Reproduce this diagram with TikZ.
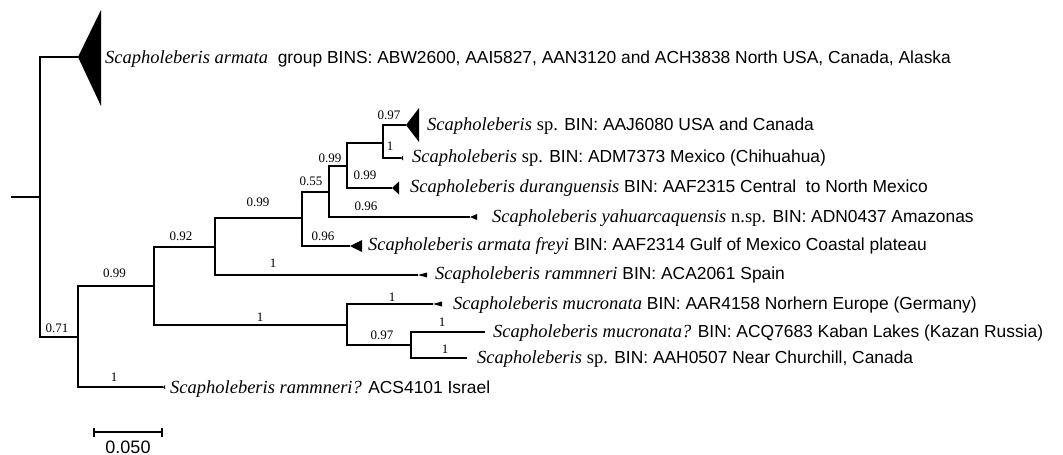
\documentclass[tikz,border=0pt]{standalone}
\usepackage{fontspec}
\setmainfont{Liberation Serif}
\setsansfont{Liberation Sans}
\newcommand{\sci}[1]{{\fontsize{18.5}{20}\selectfont\rmfamily\itshape #1}}
\newcommand{\rmtxt}[1]{{\fontsize{18.5}{20}\selectfont\rmfamily\upshape #1}}
\tikzset{
  branch/.style={line width=1.1pt},
  tiplab/.style={anchor=base west, inner sep=0pt, font=\fontsize{17.4}{20}\selectfont\sffamily},
  bs/.style={anchor=base, inner sep=0pt, font=\fontsize{13}{14}\selectfont\rmfamily},
  clade/.style={fill=black},
}
\begin{document}
\begin{tikzpicture}[x=1pt,y=-1pt]
\useasboundingbox (0,0) rectangle (1063,455);
% internal nodes and tips
\coordinate (s) at (11,197);
\coordinate (R) at (40,197);
\coordinate (T) at (78,57);
\coordinate (n071) at (78,337);
\coordinate (isr) at (163,387);
\coordinate (n099a) at (154,286);
\coordinate (n092) at (215,247);
\coordinate (nmuc) at (347,325);
\coordinate (n099b) at (302,218);
\coordinate (ram) at (418,275);
\coordinate (n055) at (329,192);
\coordinate (fre) at (350,246);
\coordinate (n099c) at (347,166);
\coordinate (yah) at (470,217);
\coordinate (n097) at (383,143);
\coordinate (dur) at (392,188);
\coordinate (aaj) at (406,125);
\coordinate (adm) at (401,158);
\coordinate (muc) at (433,304);
\coordinate (n097b) at (411,345);
\coordinate (kaz) at (485,332);
\coordinate (chu) at (467,358);
% branches
\draw[branch] (s) -- (R);
\draw[branch] (R) |- (T);
\draw[branch] (R) |- (n071);
\draw[branch] (n071) |- (isr);
\draw[branch] (n071) |- (n099a);
\draw[branch] (n099a) |- (n092);
\draw[branch] (n099a) |- (nmuc);
\draw[branch] (n092) |- (n099b);
\draw[branch] (n092) |- (ram);
\draw[branch] (n099b) |- (n055);
\draw[branch] (n099b) |- (fre);
\draw[branch] (n055) |- (n099c);
\draw[branch] (n055) |- (yah);
\draw[branch] (n099c) |- (n097);
\draw[branch] (n099c) |- (dur);
\draw[branch] (n097) |- (aaj);
\draw[branch] (n097) |- (adm);
\draw[branch] (nmuc) |- (muc);
\draw[branch] (nmuc) |- (n097b);
\draw[branch] (n097b) |- (kaz);
\draw[branch] (n097b) |- (chu);
% collapsed clades
\fill[clade] (T) -- ++(23,-47) -- ++(0,96) -- cycle;
\fill[clade] (aaj) -- ++(13,-17) -- ++(0,34) -- cycle;
\fill[clade] (dur) -- ++(7,-6.5) -- ++(0,13) -- cycle;
\fill[clade] (fre) -- ++(12,-6) -- ++(0,12) -- cycle;
\fill[clade] (yah) -- ++(7,-3) -- ++(0,6) -- cycle;
\fill[clade] (ram) -- ++(9,-2.5) -- ++(0,5) -- cycle;
\fill[clade] (muc) -- ++(9,-2.5) -- ++(0,5) -- cycle;
\fill[clade] (adm) -- ++(2,-2.5) -- ++(0,5) -- cycle;
\fill[clade] (isr) -- ++(2,-2) -- ++(0,4) -- cycle;
% tip labels
\node[tiplab] (Ltop) at (105,63) {\sci{Scapholeberis armata}\ \ group BINS: ABW2600, AAI5827, AAN3120 and ACH3838 North USA, Canada, Alaska};
\node[tiplab] (Laaj) at (427,130) {\sci{Scapholeberis} \rmtxt{sp.} BIN: AAJ6080 USA and Canada};
\node[tiplab] (Ladm) at (412,162) {\sci{Scapholeberis} \rmtxt{sp.} BIN: ADM7373 Mexico (Chihuahua)};
\node[tiplab] (Ldur) at (410,192) {\sci{Scapholeberis duranguensis} BIN: AAF2315 Central\ \ to North Mexico};
\node[tiplab] (Lyah) at (492,222) {\sci{Scapholeberis yahuarcaquensis} \rmtxt{n.sp.} BIN: ADN0437 Amazonas};
\node[tiplab] (Lfre) at (368,250) {\sci{Scapholeberis armata freyi} BIN: AAF2314 Gulf of Mexico Coastal plateau};
\node[tiplab] (Lram) at (435,279) {\sci{Scapholeberis rammneri} BIN: ACA2061 Spain};
\node[tiplab] (Lmuc) at (453,309) {\sci{Scapholeberis mucronata} BIN: AAR4158 Norhern Europe (Germany)};
\node[tiplab] (Lkaz) at (493,337) {\sci{Scapholeberis mucronata?} BIN: ACQ7683 Kaban Lakes (Kazan Russia)};
\node[tiplab] (Lchu) at (477,363) {\sci{Scapholeberis} \rmtxt{sp.} BIN: AAH0507 Near Churchill, Canada};
\node[tiplab] (Lisr) at (170,393) {\sci{Scapholeberis rammneri?} ACS4101 Israel};
% support values
\node[bs] (b071) at (57,332) {0.71};
\node[bs] (b099a) at (114.5,277) {0.99};
\node[bs] (b1isr) at (114,381) {1};
\node[bs] (b092) at (181,240) {0.92};
\node[bs] (b1muc) at (260,321) {1};
\node[bs] (b099b) at (258,206) {0.99};
\node[bs] (b1ram) at (273,267) {1};
\node[bs] (b055) at (311,185) {0.55};
\node[bs] (b096f) at (323,240) {0.96};
\node[bs] (b099c) at (330,162) {0.99};
\node[bs] (b096y) at (366,210) {0.96};
\node[bs] (b099d) at (365,179) {0.99};
\node[bs] (b097) at (389,119) {0.97};
\node[bs] (b1adm) at (390,150) {1};
\node[bs] (b1m) at (392,301) {1};
\node[bs] (b097b) at (382,339) {0.97};
\node[bs] (b1k) at (442,326) {1};
\node[bs] (b1c) at (445,353) {1};
% scale bar
\coordinate (sb1) at (94,432);
\coordinate (sb2) at (162,432);
\draw[line width=2pt] (sb1) -- (sb2);
\draw[line width=1.6pt] ([yshift=-4.5pt]sb1) -- ([yshift=4.5pt]sb1);
\draw[line width=1.6pt] ([yshift=-4.5pt]sb2) -- ([yshift=4.5pt]sb2);
\node[anchor=base, inner sep=0pt, font=\fontsize{18}{20}\selectfont\sffamily] (sbl) at (128,453) {0.050};
\end{tikzpicture}
\end{document}
